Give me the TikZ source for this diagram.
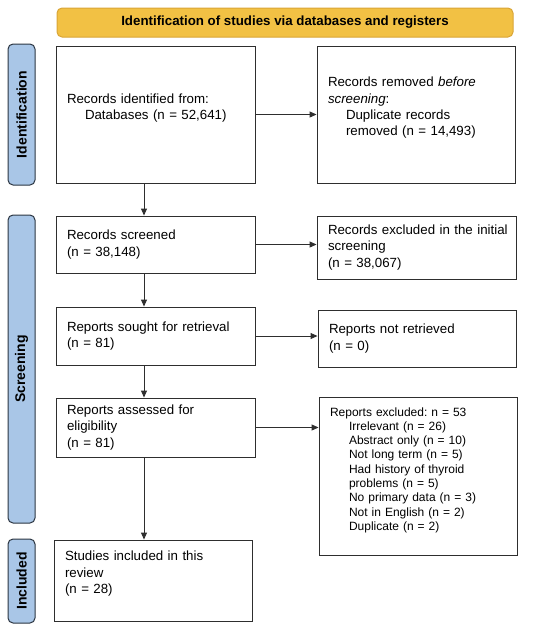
\documentclass[tikz,border=0pt]{standalone}
\usepackage{fontspec}
\setmainfont{Liberation Sans}
\usetikzlibrary{arrows.meta}
\definecolor{banner}{HTML}{F2C144}
\definecolor{bannerline}{HTML}{D9A536}
\definecolor{phase}{HTML}{A9C6E7}
\definecolor{phaseline}{HTML}{2C3642}
\definecolor{boxline}{HTML}{2E2E2E}

\tikzset{
  box/.style={draw=boxline, line width=0.9pt, rectangle, align=left, inner xsep=11pt,
    font=\fontsize{13.3}{16.3}\selectfont\frenchspacing},
  small/.style={font=\fontsize{12}{14.3}\selectfont\frenchspacing},
  phasebar/.style={draw=phaseline, line width=1pt, fill=phase, rounded corners=5pt,
    rotate=90, minimum height=27pt, inner sep=0pt, font=\bfseries\fontsize{14}{16}\selectfont},
  arr/.style={draw=boxline, line width=0.9pt, -{Triangle[length=7pt,width=6pt]}}
}

\begin{document}
\begin{tikzpicture}[x=1pt,y=-1pt]
\useasboundingbox (0,0) rectangle (550,630);
% header
\node[draw=bannerline, line width=1pt, fill=banner, rounded corners=5pt, minimum width=456pt,
  minimum height=29pt, font=\bfseries\fontsize{13.3}{16}\selectfont] (head) at (285,22.5)
  {Identification of studies via databases and registers};
% phases
\node[phasebar, minimum width=141pt] (idbar) at (21.5,114.5) {Identification};
\node[phasebar, minimum width=308pt] (scbar) at (21.5,369) {Screening};
\node[phasebar, minimum width=84pt] (incbar) at (21.5,581) {Included};
% left column
\node[box, text width=177pt, minimum height=137pt] (ident) at (155.5,114.5)
  {Records identified from:\\ \hspace*{18pt}Databases (n = 52,641)\\ \mbox{}};
\node[box, text width=177pt, minimum height=57pt] (screen) at (155.5,244.5)
  {Records screened\\(n = 38,148)};
\node[box, text width=177pt, minimum height=58pt] (sought) at (155.5,336)
  {Reports sought for retrieval\\(n = 81)};
\node[box, text width=177pt, minimum height=59pt] (assess) at (155.5,427.5)
  {Reports assessed for\\eligibility\\(n = 81)};
\node[box, text width=176pt, minimum height=81pt] (incl) at (153,580.5)
  {Studies included in this\\review\\(n = 28)\\ \mbox{}};
% right column
\node[box, text width=176pt, minimum height=137pt] (dup) at (416,114.5)
  {Records removed \textit{before}\\\textit{screening}:\\ \hspace*{18pt}Duplicate records\\
   \hspace*{18pt}removed (n = 14,493)\\ \mbox{}};
\node[box, text width=177pt, minimum height=63pt] (excl) at (416.5,247.5)
  {\mbox{Records excluded in the initial}\\screening\\(n = 38,067)};
\node[box, text width=176pt, minimum height=57pt] (notret) at (417,338.5)
  {Reports not retrieved\\(n = 0)};
\node[box, small, text width=176pt, minimum height=158pt] (reasons) at (418,476)
  {Reports excluded: n = 53\\
   \hspace*{19pt}Irrelevant (n = 26)\\
   \hspace*{19pt}Abstract only (n = 10)\\
   \hspace*{19pt}Not long term (n = 5)\\
   \hspace*{19pt}Had history of thyroid\\
   \hspace*{19pt}problems (n = 5)\\
   \hspace*{19pt}No primary data (n = 3)\\
   \hspace*{19pt}Not in English (n = 2)\\
   \hspace*{19pt}Duplicate (n = 2)\\ \mbox{}};
% arrows
\coordinate (col) at (144,0);
\draw[arr] (ident.south -| col) -- (screen.north -| col);
\draw[arr] (screen.south -| col) -- (sought.north -| col);
\draw[arr] (sought.south -| col) -- (assess.north -| col);
\draw[arr] (assess.south -| col) -- (incl.north -| col);
\draw[arr] (ident.east) -- (dup.west |- ident.east);
\draw[arr] (screen.east) -- (excl.west |- screen.east);
\draw[arr] (sought.east) -- (notret.west |- sought.east);
\draw[arr] (assess.east) -- (reasons.west |- assess.east);
\end{tikzpicture}
\end{document}
